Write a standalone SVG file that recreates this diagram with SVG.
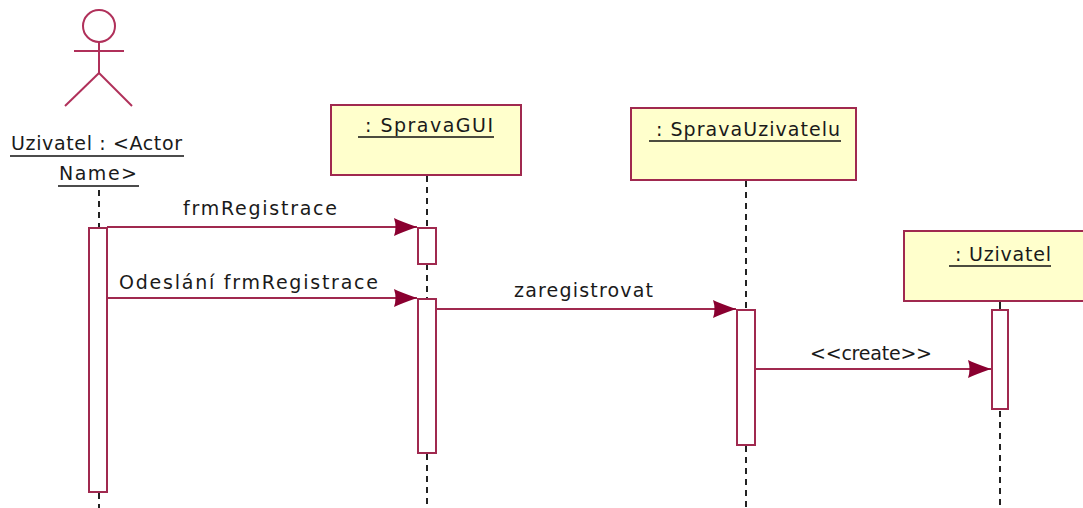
<svg xmlns="http://www.w3.org/2000/svg" width="1083" height="508" viewBox="0 0 1083 508">
<style>
.bg{fill:#ffffff}
.obj{fill:#ffffcc;stroke:#a0294f;stroke-width:2}
.act{fill:#ffffff;stroke:#a0294f;stroke-width:2}
.life{stroke:#222;stroke-width:2;stroke-dasharray:6 5;fill:none}
.msg{stroke:#a0294f;stroke-width:2;fill:none}
.fig{stroke:#b0305a;stroke-width:2;fill:none}
.t{font-family:"DejaVu Sans","Liberation Sans",sans-serif;font-size:19px;fill:#1a1a1a}
.ul{stroke:#111;stroke-width:1.5}
</style>
<defs>
<marker id="ah" markerUnits="userSpaceOnUse" markerWidth="26" markerHeight="20" viewBox="0 -10 26 20" refX="23" refY="0" orient="auto">
<path d="M0,-9 Q6,-6 23,0 Q6,6 0,9 Q3,0 0,-9 Z" fill="#8a0030"/>
</marker>
</defs>
<rect class="bg" x="0" y="0" width="1083" height="508"/>

<g id="actor-uzivatel">
<circle class="fig" cx="99" cy="26" r="16"/>
<line class="fig" x1="99" y1="42" x2="99" y2="73"/>
<line class="fig" x1="74" y1="51" x2="124" y2="51"/>
<line class="fig" x1="99" y1="73" x2="65" y2="106"/>
<line class="fig" x1="99" y1="73" x2="132" y2="106"/>
<text class="t" x="11" y="150" textLength="171" lengthAdjust="spacing">Uzivatel : &lt;Actor</text>
<line class="ul" x1="10" y1="156" x2="184" y2="156"/>
<text class="t" x="59" y="180" textLength="78" lengthAdjust="spacing">Name&gt;</text>
<line class="ul" x1="58" y1="186" x2="139" y2="186"/>
<line class="life" x1="99" y1="190" x2="99" y2="228"/>
<line class="life" x1="99" y1="493" x2="99" y2="508"/>
<rect class="act" x="89" y="228" width="18" height="264"/>
</g>

<g id="obj-spravagui">
<line class="life" x1="427" y1="176" x2="427" y2="228"/>
<line class="life" x1="427" y1="264" x2="427" y2="298"/>
<line class="life" x1="427" y1="454" x2="427" y2="508"/>
<rect class="obj" x="331" y="105" width="190" height="70"/>
<text class="t" x="365" y="132" textLength="128" lengthAdjust="spacing">: SpravaGUI</text>
<line class="ul" x1="358" y1="137" x2="494" y2="137"/>
<rect class="act" x="418" y="228" width="18" height="36"/>
<rect class="act" x="418" y="299" width="18" height="154"/>
</g>

<g id="obj-spravauzivatelu">
<line class="life" x1="746" y1="181" x2="746" y2="309"/>
<line class="life" x1="746" y1="446" x2="746" y2="508"/>
<rect class="obj" x="631" y="108" width="225" height="72"/>
<text class="t" x="656" y="136" textLength="184" lengthAdjust="spacing">: SpravaUzivatelu</text>
<line class="ul" x1="649" y1="141" x2="841" y2="141"/>
<rect class="act" x="737" y="310" width="18" height="135"/>
</g>

<g id="obj-uzivatel">
<line x1="1000" y1="301" x2="1000" y2="310" stroke="#222" stroke-width="2"/>
<line class="life" x1="1000" y1="411" x2="1000" y2="508"/>
<rect class="obj" x="904" y="231" width="182" height="70"/>
<text class="t" x="955" y="261" textLength="96" lengthAdjust="spacing">: Uzivatel</text>
<line class="ul" x1="949" y1="266" x2="1051" y2="266"/>
<rect class="act" x="992" y="310" width="16" height="99"/>
</g>

<g id="connectors">
<line class="msg" x1="107" y1="227" x2="417" y2="227" marker-end="url(#ah)"/>
<text class="t" x="183" y="215" textLength="154" lengthAdjust="spacing">frmRegistrace</text>
<line class="msg" x1="107" y1="298" x2="417" y2="298" marker-end="url(#ah)"/>
<text class="t" x="119" y="289" textLength="259" lengthAdjust="spacing">Odeslání frmRegistrace</text>
<line class="msg" x1="436" y1="309" x2="736" y2="309" marker-end="url(#ah)"/>
<text class="t" x="514" y="297" textLength="139" lengthAdjust="spacing">zaregistrovat</text>
<line class="msg" x1="755" y1="369" x2="991" y2="369" marker-end="url(#ah)"/>
<text class="t" x="810" y="360" textLength="122" lengthAdjust="spacing">&lt;&lt;create&gt;&gt;</text>
</g>
</svg>
